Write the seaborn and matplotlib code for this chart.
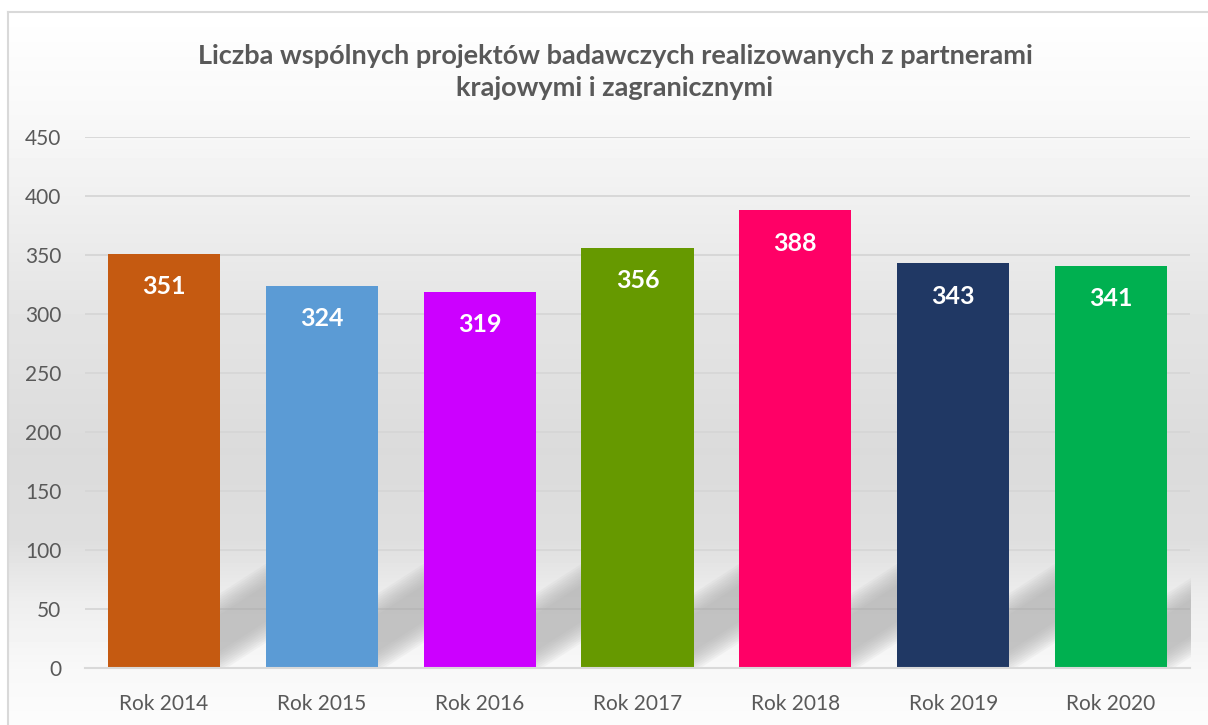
import numpy as np
import pandas as pd
import matplotlib
matplotlib.use("Agg")
import matplotlib.pyplot as plt
import seaborn as sns

# dane z wykresu
lata = ["Rok 2014", "Rok 2015", "Rok 2016", "Rok 2017", "Rok 2018", "Rok 2019", "Rok 2020"]
projekty = [351, 324, 319, 356, 388, 343, 341]
kolory = ["#C55A11", "#5B9BD5", "#CC00FF", "#669900", "#FF0066", "#203864", "#00B050"]
tytul = "Liczba wspólnych projektów badawczych realizowanych z partnerami\nkrajowymi i zagranicznymi"

df = pd.DataFrame({"rok": lata, "liczba": projekty})

sns.set_theme(style="white")
plt.rcParams["font.family"] = ["Lato", "DejaVu Sans"]

W, H = 1208, 725
fig = plt.figure(figsize=(W / 100, H / 100), dpi=100)
fig.patch.set_facecolor("white")

# tlo z gradientem (bialy -> szary -> bialy)
bg = fig.add_axes([8 / W, 0, 1 - 8 / W, 1 - 12 / H])
py = np.arange(12, H)
szary = np.interp(py, [12, 130, 300, 450, 540, 600, 668, 725],
                  [255, 247, 229, 219, 222, 238, 248, 252]) / 255
bg.imshow(np.repeat(szary[:, None], 2, axis=1), cmap="gray", vmin=0, vmax=1,
          aspect="auto", extent=[0, 1, 0, 1])
bg.set_xticks([])
bg.set_yticks([])
for s in ["right", "bottom"]:
    bg.spines[s].set_visible(False)
for s in ["left", "top"]:
    bg.spines[s].set_color("#d9d9d9")
    bg.spines[s].set_linewidth(1.5)

ax = fig.add_axes([85 / W, 1 - 668 / H, (1190 - 85) / W, (668 - 137) / H])
ax.set_facecolor("none")

sns.barplot(data=df, x="rok", y="liczba", hue="rok", palette=kolory,
            width=0.71, legend=False, saturation=1, linewidth=0, ax=ax, zorder=3)

# cienie za slupkami (ukosne, rozmyte pasy)
nachylenie = 25 / 0.29
for p in ax.patches:
    xl = p.get_x()
    xr = xl + p.get_width()
    xs = np.linspace(xl, xr + 0.29, 40)
    dol = 3 + (xs - xr) * nachylenie
    gora = 58 + (xs - xr) * nachylenie
    for k in np.arange(-6, 14, 2):
        ax.fill_between(xs, np.maximum(dol + k, 0), gora - k, color="#a8a8a8",
                        alpha=0.09, lw=0, zorder=1)

for i, v in enumerate(projekty):
    ax.text(i, v - 28, str(v), ha="center", va="center", color="white",
            fontsize=18, fontweight="bold", zorder=5)

ax.set_xlim(-0.5, 6.5)
ax.set_ylim(0, 450)
ax.set_yticks(range(0, 451, 50))
ax.yaxis.grid(True, color="#d6d6d6", lw=1.3)
for line in ax.get_ygridlines():
    line.set_zorder(2)
ax.set_xlabel("")
ax.set_ylabel("")
for s in ["left", "right", "top"]:
    ax.spines[s].set_visible(False)
ax.spines["bottom"].set_color("#d9d9d9")
ax.spines["bottom"].set_linewidth(1.5)
ax.spines["bottom"].set_zorder(4)
ax.tick_params(axis="both", length=0, labelsize=15, labelcolor="#595959")
ax.tick_params(axis="y", pad=17)
ax.tick_params(axis="x", pad=19)

fig.text(615 / W, 1 - 72 / H, tytul, ha="center", va="center", fontsize=19.5,
         fontweight="bold", color="#595959", linespacing=1.45)

fig.savefig("out.png", dpi=100)
